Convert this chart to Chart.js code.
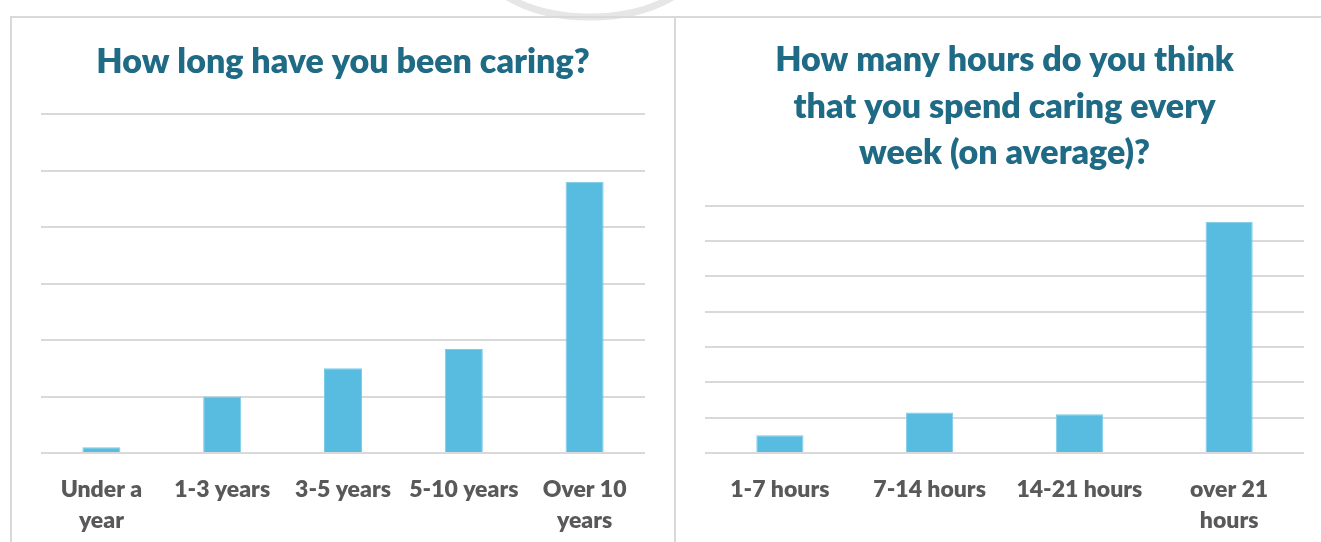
<!DOCTYPE html>
<html>
<head>
<meta charset="utf-8">
<script src="https://cdn.jsdelivr.net/npm/chart.js@4.4.0/dist/chart.umd.min.js"></script>
<style>
  body { margin: 0; background: #fff; }
  #page { position: relative; width: 1321px; height: 542px; overflow: hidden; background: #fff; }
  .frame { position: absolute; background: #d9d9d9; }
  .box { position: absolute; }
</style>
</head>
<body>
<div id="page">
  <svg width="1321" height="60" style="position:absolute;left:0;top:0">
    <ellipse cx="590" cy="-45" rx="112" ry="62" fill="none" stroke="#e6e6e6" stroke-width="7"/>
  </svg>
  <div class="frame" style="left:10px;top:16px;width:1311px;height:2px"></div>
  <div class="frame" style="left:10px;top:16px;width:2px;height:526px"></div>
  <div class="frame" style="left:674px;top:16px;width:2px;height:526px"></div>
  <div class="box" style="left:12px;top:18px"><canvas id="left" width="662" height="524"></canvas></div>
  <div class="box" style="left:676px;top:18px"><canvas id="right" width="645" height="524"></canvas></div>
</div>
<script>
// how long caring (grid step = 1 unit)
const caringLabels = [["Under a", "year"], "1-3 years", "3-5 years", "5-10 years", ["Over 10", "years"]];
const caringValues = [0.1, 1.0, 1.5, 1.84, 4.8];

// hours per week
const hoursLabels = ["1-7 hours", "7-14 hours", "14-21 hours", ["over 21", "hours"]];
const hoursValues = [0.5, 1.15, 1.1, 6.55];

const barColor = "#57bce0";
const titleColor = "#1f6a85";
const tickColor = "#595959";

function makeChart(id, labels, values, yMax, title, titleOpts, pad) {
    const ctx = document.getElementById(id).getContext("2d");
    return new Chart(ctx, {
        type: "bar",
        data: {
            labels: labels,
            datasets: [{
                data: values,
                backgroundColor: barColor,
                borderColor: "#7ccbe8",
                borderWidth: 1,
                barPercentage: 0.315,
                categoryPercentage: 1.0,
            }],
        },
        options: {
            responsive: false,
            animation: false,
            devicePixelRatio: 1,
            layout: { padding: pad },
            plugins: {
                legend: { display: false },
                tooltip: { enabled: false },
                title: {
                    display: true,
                    text: title,
                    color: titleColor,
                    font: { family: "Lato", weight: "800", size: 34, lineHeight: titleOpts.lineHeight },
                    padding: { top: titleOpts.top, bottom: titleOpts.bottom },
                },
            },
            scales: {
                x: {
                    grid: { display: false, drawTicks: false },
                    border: { display: false },
                    ticks: {
                        color: tickColor,
                        font: { family: "Lato", weight: "800", size: 23, lineHeight: 1.35 },
                        padding: 21,
                        maxRotation: 0,
                        autoSkip: false,
                    },
                    afterFit: (scale) => { scale.height = 82; },
                },
                y: {
                    min: 0,
                    max: yMax,
                    grid: { color: "#d9d9d9", lineWidth: 2, drawTicks: false },
                    border: { display: false },
                    ticks: { display: false, stepSize: 1 },
                },
            },
        },
    });
}

makeChart("left", caringLabels, caringValues, 6,
    "How long have you been caring?",
    { lineHeight: 1.06, top: 26, bottom: 34 },
    { left: 29, right: 29, top: 0, bottom: 7 });

makeChart("right", hoursLabels, hoursValues, 7,
    ["How many hours do you think", "that you spend caring every", "week (on average)?"],
    { lineHeight: 1.37, top: 19, bottom: 29 },
    { left: 29, right: 17, top: 0, bottom: 7 });
</script>
</body>
</html>
